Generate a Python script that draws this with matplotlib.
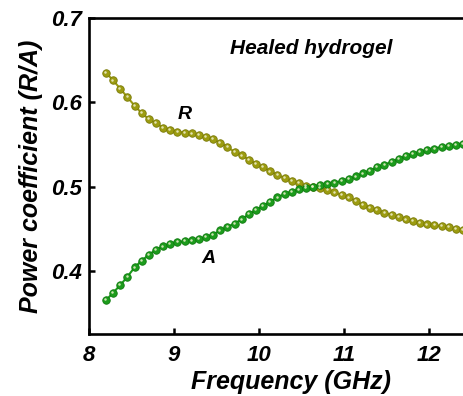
import numpy as np
import matplotlib
matplotlib.use("Agg")
import matplotlib.pyplot as plt
from matplotlib.transforms import offset_copy

# X-band sweep, 51 points
freq = np.round(np.linspace(8.2, 12.4, 51), 3)

refl = [0.635, 0.626, 0.616, 0.606, 0.596, 0.587, 0.580, 0.575, 0.570, 0.567,
        0.565, 0.564, 0.563, 0.561, 0.559, 0.556, 0.552, 0.547, 0.541, 0.537,
        0.532, 0.527, 0.523, 0.518, 0.514, 0.510, 0.507, 0.504, 0.501, 0.500,
        0.498, 0.496, 0.493, 0.490, 0.487, 0.483, 0.478, 0.475, 0.472, 0.469,
        0.466, 0.464, 0.461, 0.459, 0.457, 0.455, 0.454, 0.453, 0.452, 0.450,
        0.4485]

absorb = [0.365, 0.374, 0.383, 0.393, 0.404, 0.412, 0.419, 0.425, 0.429, 0.432,
          0.434, 0.435, 0.436, 0.4375, 0.440, 0.443, 0.448, 0.452, 0.456, 0.461,
          0.467, 0.472, 0.477, 0.482, 0.487, 0.491, 0.494, 0.4965, 0.4985, 0.500,
          0.5015, 0.503, 0.5045, 0.5065, 0.509, 0.512, 0.5155, 0.519, 0.523, 0.526,
          0.529, 0.533, 0.536, 0.539, 0.541, 0.543, 0.545, 0.547, 0.548, 0.549,
          0.551]

plt.rcParams['font.family'] = ['Liberation Sans', 'DejaVu Sans']
plt.rcParams['font.weight'] = 'bold'
plt.rcParams['font.style'] = 'italic'
plt.rcParams['axes.labelweight'] = 'bold'

fig = plt.figure(figsize=(4.64, 3.96), dpi=100)
ax = fig.add_axes([0.1918, 0.1566, 0.8244, 0.798])

def beads(x, y, col, edge):
    ax.plot(x, y, '-', color=col, lw=1.5, zorder=2)
    ax.plot(x, y, 'o', ms=5.4, mfc=col, mec=edge, mew=0.6, zorder=3)
    # little shine on each bead
    tr = offset_copy(ax.transData, fig=fig, x=-0.6, y=0.6, units='points')
    ax.plot(x, y, 'o', ms=1.8, mfc='#f0f0d0', mec='none', alpha=0.85,
            transform=tr, zorder=4)

beads(freq, refl, '#9c9c10', '#7a7a08')
beads(freq, absorb, '#1c9c1c', '#0f7a0f')

ax.set_xlim(8, 12.5)
ax.set_ylim(0.325, 0.7)
ax.set_xticks([8, 9, 10, 11, 12])
ax.set_yticks([0.4, 0.5, 0.6, 0.7])
ax.set_yticklabels(['0.4', '0.5', '0.6', '0.7'])

for s in ax.spines.values():
    s.set_linewidth(1.9)
ax.tick_params(direction='in', length=4, width=1.8, labelsize=16, pad=5)
ax.tick_params(axis='x', pad=8)

ax.set_xlabel('Frequency (GHz)', fontsize=18, fontweight='bold')
ax.xaxis.set_label_coords(0.528, -0.115)
ax.set_ylabel('Power coefficient (R/A)', fontsize=18, fontweight='bold', labelpad=6)

ax.text(9.13, 0.585, 'R', fontsize=14, ha='center', va='center')
ax.text(9.4, 0.415, 'A', fontsize=14, ha='center', va='center')
ax.text(10.61, 0.664, 'Healed hydrogel', fontsize=15, ha='center', va='center')

fig.savefig('out.png', dpi=100)
